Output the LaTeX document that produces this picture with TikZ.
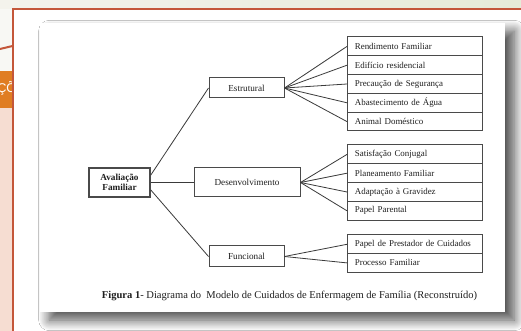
\documentclass[tikz,border=0pt]{standalone}
\usepackage{fontspec}
\setmainfont{Liberation Serif}
\newfontfamily\slidesans{Liberation Sans}
\usetikzlibrary{shadows.blur}

\definecolor{stripL}{HTML}{F4F3EC}
\definecolor{stripR}{HTML}{E6ECD8}
\definecolor{frame}{HTML}{C4573A}
\definecolor{tabfill}{HTML}{E07D22}
\definecolor{peach}{HTML}{F6DDD2}
\definecolor{boxline}{HTML}{4A4A4A}
\definecolor{linkline}{HTML}{3A3A3A}
\definecolor{inkgray}{HTML}{1E1E1E}

\tikzset{
  linkstyle/.style={draw=linkline, line width=0.6pt},
  catbox/.style={draw=boxline, line width=0.75pt, fill=white, text=inkgray,
    font=\fontsize{6.9}{8}\selectfont, inner sep=0pt},
  rowbox/.style={draw=boxline, line width=0.75pt, fill=white, text=inkgray,
    font=\fontsize{6.7}{8}\selectfont, anchor=west, minimum height=14.1pt,
    inner xsep=5.5pt, inner ysep=0pt, text width=90.25pt, align=left},
}

\begin{document}
\begin{tikzpicture}[x=0.75pt,y=-0.75pt]
\useasboundingbox (0,0) rectangle (521,331);

% slide backdrop
\fill[white] (0,0) rectangle (521,331);
\shade[left color=stripL, right color=stripR] (0,0) rectangle (521,9);
\fill[stripL!60!white] (0,9) rectangle (12,71);
\fill[tabfill] (0,71) rectangle (12,108);
\fill[peach] (0,108) rectangle (12,331);
\begin{scope}
  \clip (0,71) rectangle (12,108);
  \node[anchor=west, text=white, inner sep=0pt,
        font=\slidesans\fontsize{9.5}{10}\selectfont] (tabtext) at (-3,88) {ÇÕ};
\end{scope}

% slide frame
\draw[frame, line width=1.5pt] (0,49) -- (12.5,46);
\draw[frame, line width=1.5pt] (12.5,331) -- (12.5,9) -- (521,9);

% figure panel with its drop shadow
\fill[white, blur shadow={shadow xshift=7pt, shadow yshift=-6pt,
      shadow blur radius=8pt, shadow opacity=70, shadow blur steps=14}]
  (40,23) rectangle (505,312);

% main categories
\node[catbox, line width=1.2pt, minimum width=45.75pt, minimum height=21.75pt,
      align=center, font=\bfseries\fontsize{6.9}{8}\selectfont]
  (av) at (119.5,182.5) {Avaliação\\Familiar};
\node[catbox, minimum width=56.25pt, minimum height=15pt] (est) at (246.5,88) {Estrutural};
\node[catbox, minimum width=79.5pt, minimum height=21.75pt] (des) at (247,182.5) {Desenvolvimento};
\node[catbox, minimum width=56.25pt, minimum height=15.75pt] (fun) at (246.5,256.5) {Funcional};

% structural items
\node[rowbox] (r1) at (347,46.4) {Rendimento Familiar};
\node[rowbox] (r2) at (347,65.2) {Edifício residencial};
\node[rowbox] (r3) at (347,84.0) {Precaução de Segurança};
\node[rowbox] (r4) at (347,102.8) {Abastecimento de Água};
\node[rowbox] (r5) at (347,121.6) {Animal Doméstico};

% developmental items
\node[rowbox] (s1) at (347,154.4) {Satisfação Conjugal};
\node[rowbox] (s2) at (347,173.2) {Planeamento Familiar};
\node[rowbox] (s3) at (347,192.0) {Adaptação à Gravidez};
\node[rowbox] (s4) at (347,210.8) {Papel Parental};

% functional items
\node[rowbox] (p1) at (347,244.3) {\mbox{Papel de Prestador de Cuidados}};
\node[rowbox] (p2) at (347,262.9) {Processo Familiar};

% connectors
\draw[linkstyle] ([yshift=5.6pt]av.east) -- (est.west);
\draw[linkstyle] (av.east) -- (des.west);
\draw[linkstyle] ([yshift=-5.6pt]av.east) -- (fun.west);
\foreach \t in {r1,r2,r3,r4,r5} \draw[linkstyle] (est.east) -- (\t.west);
\foreach \t in {s1,s2,s3,s4} \draw[linkstyle] (des.east) -- (\t.west);
\foreach \t in {p1,p2} \draw[linkstyle] (fun.east) -- (\t.west);

% caption
\node[text=inkgray, inner sep=0pt, font=\fontsize{7.9}{9}\selectfont] (cap) at (289.5,296)
  {\textbf{Figura 1}- Diagrama do\ \ Modelo de Cuidados de Enfermagem de Família (Reconstruído)};
\end{tikzpicture}
\end{document}
